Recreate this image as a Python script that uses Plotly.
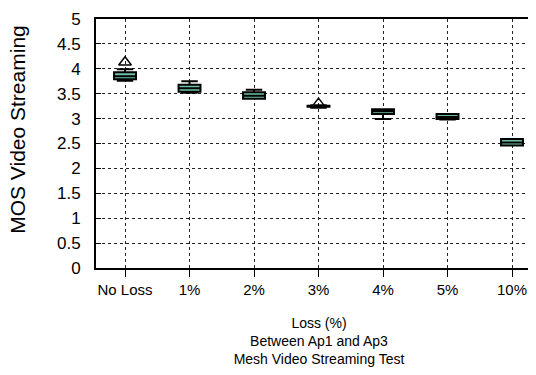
import plotly.graph_objects as go

categories = ["No Loss", "1%", "2%", "3%", "4%", "5%", "10%"]
lower_fence = [3.76, 3.52, 3.40, 3.22, 2.99, 2.98, 2.46]
q1 = [3.79, 3.54, 3.40, 3.24, 3.09, 2.99, 2.46]
median = [3.85, 3.61, 3.46, 3.25, 3.15, 3.03, 2.52]
q3 = [3.93, 3.68, 3.53, 3.26, 3.19, 3.09, 2.59]
upper_fence = [3.99, 3.75, 3.58, 3.27, 3.19, 3.09, 2.59]
outlier_idx = [0, 3]
outlier_val = [4.13, 3.30]
yticks = [0, 0.5, 1, 1.5, 2, 2.5, 3, 3.5, 4, 4.5, 5]

xpos = list(range(len(categories)))
FONT = "Liberation Sans, Arial, sans-serif"
GRID = "#222222"

fig = go.Figure()
fig.add_trace(go.Box(
    x=xpos, q1=q1, median=median, q3=q3,
    lowerfence=lower_fence, upperfence=upper_fence,
    fillcolor="#6cbfa8", line=dict(color="black", width=2),
    width=0.34, whiskerwidth=0.75, boxpoints=False, showlegend=False,
))
fig.add_trace(go.Scatter(
    x=outlier_idx, y=outlier_val, mode="markers",
    marker=dict(symbol="triangle-up-open", size=11, color="black",
                line=dict(width=1.5, color="black")),
    showlegend=False,
))

# the page body keeps its default 8px margin, so the layout margins are 8px smaller
fig.update_layout(
    width=536, height=375,
    margin=dict(l=88, r=2, t=7, b=115),
    paper_bgcolor="white", plot_bgcolor="white",
    font=dict(family=FONT, color="black"),
    xaxis=dict(
        range=[-0.45, 6.465], tickvals=xpos, ticktext=categories,
        showgrid=True, gridcolor=GRID, griddash="dot", gridwidth=1,
        showline=True, linecolor="black", linewidth=2, mirror=True,
        ticks="outside", ticklen=7, tickcolor="black", tickwidth=1,
        tickfont=dict(size=15), zeroline=False,
        title=dict(text="Loss (%)<br>Between Ap1 and Ap3<br>Mesh Video Streaming Test",
                   font=dict(size=14), standoff=21),
    ),
    yaxis=dict(
        range=[0, 5], tickvals=yticks, ticktext=[f"{v:g}" for v in yticks],
        showgrid=True, gridcolor=GRID, griddash="dot", gridwidth=1,
        showline=True, linecolor="black", linewidth=2,
        ticks="inside", ticklen=5, tickcolor="black", tickwidth=1,
        tickfont=dict(size=17), ticklabelstandoff=10, zeroline=False,
        ticklabeloverflow="allow",
    ),
    annotations=[dict(
        text="MOS Video Streaming", textangle=-90, font=dict(size=21),
        xref="paper", yref="paper", x=0, y=0.555, xshift=-78,
        xanchor="center", yanchor="middle", showarrow=False,
    )],
)

fig.write_html("out.html", config={"displayModeBar": False})
